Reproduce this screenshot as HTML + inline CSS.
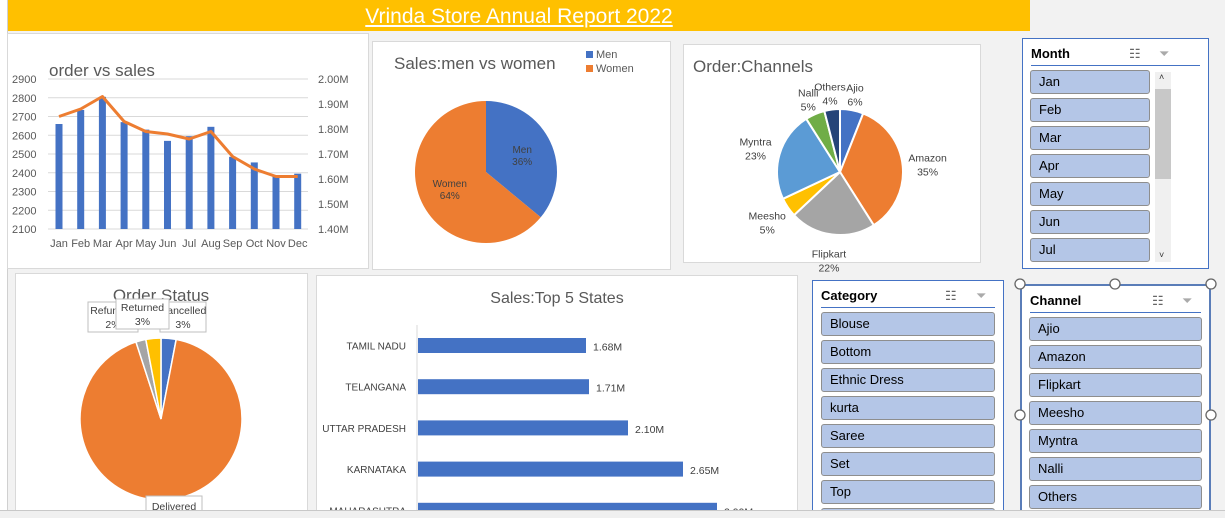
<!DOCTYPE html>
<html style="overflow:hidden;width:1225px;height:518px"><head><meta charset="utf-8">
<style>
body{margin:0;width:1225px;height:518px;overflow:hidden;background:#f2f2f2;font-family:"Liberation Sans",sans-serif;position:relative}
.abs{position:absolute}
.panel{position:absolute;background:#fff;border:1px solid #d9d9d9;box-sizing:border-box}
.slicer{position:absolute;background:#fff;border:1px solid #4472c4;box-sizing:border-box;overflow:hidden}
.sh{position:absolute;left:8px;right:8px;top:4px;height:22px;border-bottom:1px solid #4472c4;font-weight:bold;font-size:13px;color:#000;line-height:22px}
.item{position:absolute;height:24px;background:#b4c6e7;border:1px solid #8e8e8e;border-radius:3px;box-sizing:border-box;font-size:13px;line-height:22px;padding-left:8px;color:#000}
.ic{position:absolute;top:0;font-size:13px;color:#666;font-weight:normal}
svg text{font-family:"Liberation Sans",sans-serif}
</style></head><body>
<div class="abs" style="left:0;top:0;width:7px;height:518px;background:#fff;border-right:1px solid #d0d0d0"></div>
<div class="abs" style="left:8px;top:0;width:1022px;height:31px;background:#ffc000;text-align:center;color:#fff;font-size:21px;line-height:33px"><span style="text-decoration:underline">Vrinda Store Annual Report 2022</span></div>

<div class="panel" style="left:7px;top:33px;width:362px;height:236px"></div>
<div class="panel" style="left:372px;top:41px;width:299px;height:229px"></div>
<div class="panel" style="left:683px;top:44px;width:298px;height:219px"></div>
<div class="panel" style="left:15px;top:273px;width:293px;height:245px"></div>
<div class="panel" style="left:316px;top:275px;width:482px;height:243px"></div>

<div class="slicer" style="left:1022px;top:38px;width:187px;height:231px">
 <div class="sh">Month<span class="ic" style="left:98px">☷</span><span class="ic" style="left:128px;color:#aaa">⏷</span></div>
 <div class="abs" style="left:132px;top:33px;width:16px;height:190px;background:#f0f0f0"><div style="position:absolute;top:17px;left:0;width:16px;height:90px;background:#c8c8c8"></div><div style="position:absolute;top:0;left:4px;font-size:9px;color:#333">˄</div><div style="position:absolute;bottom:2px;left:4px;font-size:9px;color:#333">˅</div></div>
 <div id="months"></div>
</div>
<div class="slicer" style="left:812px;top:280px;width:192px;height:238px">
 <div class="sh">Category<span class="ic" style="left:124px">☷</span><span class="ic" style="left:155px;color:#aaa">⏷</span></div>
 <div id="cats"></div>
</div>
<div class="slicer" style="left:1020px;top:284px;width:191px;height:234px;border:2px solid #5a7db8">
 <div class="sh">Channel<span class="ic" style="left:122px">☷</span><span class="ic" style="left:152px;color:#aaa">⏷</span></div>
 <div id="chans"></div>
</div>
<div class="abs" style="left:0;top:510px;width:1225px;height:8px;background:#f0f0f0;border-top:1px solid #c8c8c8;z-index:5"></div>

<svg class="abs" style="left:0;top:0;z-index:4;pointer-events:none" width="1225" height="518" id="charts">
<text x="49" y="76" font-size="17" fill="#595959">order vs sales</text>
<text x="394" y="69" font-size="17" fill="#595959">Sales:men vs women</text>
<text x="693" y="72" font-size="17" fill="#595959">Order:Channels</text>
</svg>

<script>
const months=["Jan","Feb","Mar","Apr","May","Jun","Jul","Aug","Sep","Oct","Nov","Dec"];
const orders=[2660,2735,2805,2670,2630,2570,2595,2645,2485,2455,2385,2395];
const salesM=[1.85,1.88,1.93,1.83,1.79,1.78,1.76,1.79,1.69,1.64,1.61,1.61];
const leftTicks=[2100,2200,2300,2400,2500,2600,2700,2800,2900];
const rightTicks=[1.4,1.5,1.6,1.7,1.8,1.9,2.0];
const genderLabels=["Men","Women"];
const genderVals=[36,64];
const chanLabels=["Ajio","Amazon","Flipkart","Meesho","Myntra","Nalli","Others"];
const chanVals=[6,35,22,5,23,5,4];
const statusLabels=["Cancelled","Delivered","Refunded","Returned"];
const statusVals=[3,92,2,3];
const states=["TAMIL NADU","TELANGANA","UTTAR PRADESH","KARNATAKA","MAHARASHTRA"];
const stateSales=[1.68,1.71,2.10,2.65,2.99];
const categories=["Blouse","Bottom","Ethnic Dress","kurta","Saree","Set","Top","Western Dress"];
const channels=["Ajio","Amazon","Flipkart","Meesho","Myntra","Nalli","Others"];

const NS="http://www.w3.org/2000/svg";
const svg=document.getElementById('charts');
function el(t,a,p){const e=document.createElementNS(NS,t);for(const k in a)e.setAttribute(k,a[k]);(p||svg).appendChild(e);return e;}
function txt(x,y,s,a){const e=el('text',Object.assign({x:x,y:y,'font-size':11,fill:'#595959'},a||{}));e.textContent=s;return e;}

const yL=v=>229-(v-2100)/800*150;
const yR=v=>229-(v-1.4)/0.6*150;
const xM=i=>59+i*21.7;
leftTicks.forEach(t=>{const g=el('line',{x1:48,x2:308,y1:yL(t),y2:yL(t),stroke:'#d9d9d9'});

const l=txt(12,yL(t)+4,t,{'font-size':11});});
rightTicks.forEach(t=>{const l=txt(318,yR(t)+4,t.toFixed(2)+'M',{'font-size':11});
});
orders.forEach((v,i)=>{const b=el('rect',{x:xM(i)-3.5,y:yL(v),width:7,height:229-yL(v),fill:'#4472c4'});

const l=txt(xM(i),247,months[i],{'text-anchor':'middle','font-size':11});});
const ln=el('polyline',{points:salesM.map((v,i)=>xM(i)+','+yR(v)).join(' '),fill:'none',stroke:'#ed7d31','stroke-width':3,'stroke-linejoin':'round'});


function pie(cx,cy,r,vals,cols,name,gap){
 const tot=vals.reduce((a,b)=>a+b,0);let a=-Math.PI/2;const mids=[];
 vals.forEach((v,i)=>{const a2=a+v/tot*2*Math.PI;
  const x1=cx+r*Math.cos(a),y1=cy+r*Math.sin(a),x2=cx+r*Math.cos(a2),y2=cy+r*Math.sin(a2);
  const p=el('path',{d:`M${cx},${cy}L${x1},${y1}A${r},${r} 0 ${a2-a>Math.PI?1:0} 1 ${x2},${y2}Z`,fill:cols[i],stroke:'#fff','stroke-width':gap});
  
  mids.push((a+a2)/2);a=a2;});
 return mids;}

const gm=pie(486,172,71,genderVals,['#4472c4','#ed7d31'],'gender',0);
genderVals.forEach((v,i)=>{const x=486+40*Math.cos(gm[i]),y=172+40*Math.sin(gm[i]);
 const t1=txt(x,y-2,genderLabels[i],{'text-anchor':'middle','font-size':10,fill:'#404040'});
 const t2=txt(x,y+10,v+'%',{'text-anchor':'middle','font-size':10,fill:'#404040'});});
genderLabels.forEach((g,i)=>{const r=el('rect',{x:586,y:51+i*14,width:7,height:7,fill:['#4472c4','#ed7d31'][i]});
 
 const t=txt(596,58+i*14,g,{'font-size':11});});

const cc=['#4472c4','#ed7d31','#a5a5a5','#ffc000','#5b9bd5','#70ad47','#264478'];
const cm=pie(840,172,63,chanVals,cc,'channel',2);
chanVals.forEach((v,i)=>{let rr=i==0||i==5||i==6?80:88;const x=840+rr*Math.cos(cm[i]),y=172+rr*Math.sin(cm[i]);
 const t1=txt(x,y-2,chanLabels[i],{'text-anchor':'middle','font-size':10.5,fill:'#404040'});
 const t2=txt(x,y+12,v+'%',{'text-anchor':'middle','font-size':10.5,fill:'#404040'});});

const st=txt(161,301,'Order Status',{'text-anchor':'middle','font-size':17,fill:'#595959'});
pie(161,419,81,statusVals,['#4472c4','#ed7d31','#a5a5a5','#ffc000'],'status',1.5);
[[88,302,'Refunded','2%',50],[160,302,'Cancelled','3%',46],[116,299,'Returned','3%',53]].forEach(d=>{
 const r=el('rect',{x:d[0],y:d[1],width:d[4],height:30,fill:'#fff',stroke:'#bfbfbf'});
 const t1=txt(d[0]+d[4]/2,d[1]+12,d[2],{'text-anchor':'middle','font-size':10.5,fill:'#404040'});
 const t2=txt(d[0]+d[4]/2,d[1]+26,d[3],{'text-anchor':'middle','font-size':10.5,fill:'#404040'});});
const dr=el('rect',{x:146,y:496,width:56,height:20,fill:'#fff',stroke:'#bfbfbf'});
const dt=txt(174,510,'Delivered',{'text-anchor':'middle','font-size':10.5,fill:'#404040'});

const tt=txt(557,303,'Sales:Top 5 States',{'text-anchor':'middle','font-size':16,fill:'#595959'});
const xS=v=>418+v*100;
const ax=el('line',{x1:417,x2:417,y1:325,y2:515,stroke:'#d9d9d9'});
states.forEach((s,i)=>{const yc=345.5+i*41.2;
 const b=el('rect',{x:418,y:yc-7.5,width:xS(stateSales[i])-418,height:15,fill:'#4472c4'});
 const l=txt(406,yc+4,s,{'text-anchor':'end','font-size':10,fill:'#404040'});
 const v=txt(xS(stateSales[i])+7,yc+5,stateSales[i].toFixed(2)+'M',{'font-size':10.5,fill:'#404040'});});

function items(id,list,left,top,w,step){const c=document.getElementById(id);
 list.forEach((s,i)=>{const d=document.createElement('div');d.className='item';
  d.style.left=left+'px';d.style.top=(top+i*step)+'px';d.style.width=w+'px';d.textContent=s;
  
  
  c.appendChild(d);});}
items('months',months.slice(0,7),7,31,120,28);
items('cats',categories,8,31,174,28);
items('chans',channels,7,31,173,28);
[[1020,284],[1115,284],[1211,284],[1020,415],[1211,415]].forEach(p=>{const h=el('circle',{cx:p[0],cy:p[1],r:5,fill:'#fff',stroke:'#666','stroke-width':1.3});
 });
</script>
</body></html>
